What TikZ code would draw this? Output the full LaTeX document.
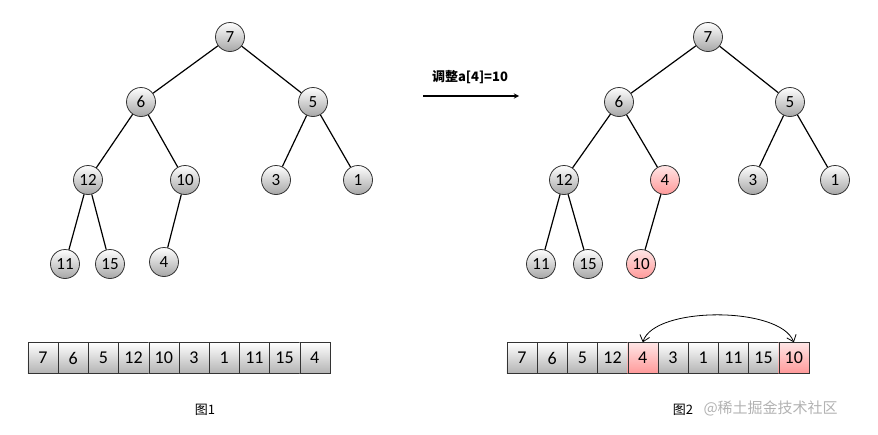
\documentclass[tikz,border=0pt]{standalone}
\usetikzlibrary{arrows.meta}
\usepackage{fontspec}
\setmainfont{Carlito}
\newfontfamily\cjk{Noto Sans CJK SC}
\begin{document}
\begin{tikzpicture}[x=1pt,y=-1pt,
  tn/.style={circle,draw=black!80,thick,minimum size=29pt,inner sep=0pt,top color=white,bottom color=black!35,font=\fontsize{17}{17}\selectfont},
  rn/.style={tn,top color=red!10,bottom color=red!40},
  cell/.style={draw=black!80,minimum width=30.2pt,minimum height=31pt,inner sep=0pt,top color=white,bottom color=black!30,font=\fontsize{18}{18}\selectfont},
  rcell/.style={cell,top color=red!10,bottom color=red!40},
  edge/.style={line width=1.2pt}]
\useasboundingbox (0,0) rectangle (878,434);
% tree 1
\node[tn] (a7) at (230,37) {7};
\node[tn] (a6) at (141,102) {6};
\node[tn] (a5) at (313,102) {5};
\node[tn] (a12) at (88,180) {12};
\node[tn] (a10) at (185,180) {10};
\node[tn] (a3) at (276,180) {3};
\node[tn] (a1) at (358,180) {1};
\node[tn] (a11) at (65,264) {11};
\node[tn] (a15) at (110,264) {15};
\node[tn] (a4) at (164,262) {4};
\foreach \p/\c in {a7/a6,a7/a5,a6/a12,a6/a10,a5/a3,a5/a1,a12/a11,a12/a15,a10/a4}
  \draw[edge] (\p) -- (\c);
% tree 2
\node[tn] (b7) at (708,37) {7};
\node[tn] (b6) at (619,102) {6};
\node[tn] (b5) at (790,102) {5};
\node[tn] (b12) at (564,180) {12};
\node[rn] (b4) at (665,180) {4};
\node[tn] (b3) at (753,180) {3};
\node[tn] (b1) at (835,180) {1};
\node[tn] (b11) at (541,264) {11};
\node[tn] (b15) at (588,264) {15};
\node[rn] (b10) at (641,264) {10};
\foreach \p/\c in {b7/b6,b7/b5,b6/b12,b6/b4,b5/b3,b5/b1,b12/b11,b12/b15,b4/b10}
  \draw[edge] (\p) -- (\c);
% arrow
\coordinate (s) at (423,96);
\coordinate (e) at (519,96);
\draw[-stealth,line width=1.3pt] (s) -- (e);
\node[font=\cjk\bfseries\fontsize{13}{13}\selectfont] (t) at (470,77) {调整a[4]=10};
% arrays
\foreach \v [count=\i] in {7,6,5,12,10,3,1,11,15,4}
  \node[cell] (c\i) at (43+30.2*\i-30.2,358) {\v};
\foreach \v/\s [count=\i] in {7/cell,6/cell,5/cell,12/cell,4/rcell,3/cell,1/cell,11/cell,15/cell,10/rcell}
  \node[\s] (d\i) at (522+30.2*\i-30.2,358) {\v};
\draw[{Straight Barb[length=6pt,width=10pt]}-{Straight Barb[length=6pt,width=10pt]},line width=0.8pt] (d5.north) .. controls (654,306) and (780,306) .. (d10.north);
\node[font=\cjk\fontsize{13}{13}\selectfont] (l1) at (205,410) {图1};
\node[font=\cjk\fontsize{13}{13}\selectfont] (l2) at (683,410) {图2};
\node[font=\cjk\fontsize{15}{15}\selectfont,text=black!30,anchor=west] (wm) at (700,408) {@稀土掘金技术社区};
\end{tikzpicture}
\end{document}
